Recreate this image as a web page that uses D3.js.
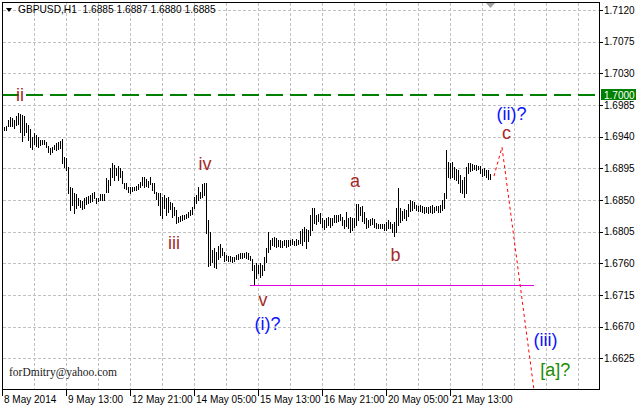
<!DOCTYPE html>
<html><head><meta charset="utf-8">
<script src="https://cdn.jsdelivr.net/npm/d3@7"></script>
<style>html,body{margin:0;padding:0;background:#fff;}svg{display:block}</style>
</head><body>
<svg id="c" width="636" height="408"></svg>
<script>
// ---- data (GBPUSD H1 bar highs / lows, one entry per hour) ----
const highs = [1.6953,
1.6954,1.6955,1.6964,1.6968,1.6967,1.6964,1.6969,1.6974,1.6972,1.6971,
1.6969,1.6959,1.6957,1.6951,1.6940,1.6945,1.6942,1.6940,1.6935,1.6935,
1.6935,1.6932,1.6927,1.6924,1.6925,1.6928,1.6931,1.6932,1.6934,1.6937,
1.6911,1.6910,1.6897,1.6868,1.6867,1.6860,1.6859,1.6853,1.6850,1.6849,
1.6853,1.6854,1.6856,1.6857,1.6860,1.6861,1.6853,1.6853,1.6859,1.6859,
1.6859,1.6881,1.6878,1.6895,1.6903,1.6900,1.6895,1.6898,1.6895,1.6891,
1.6874,1.6874,1.6868,1.6868,1.6868,1.6868,1.6870,1.6873,1.6876,1.6883,
1.6883,1.6880,1.6877,1.6883,1.6874,1.6874,1.6861,1.6860,1.6860,1.6854,
1.6857,1.6853,1.6854,1.6847,1.6846,1.6840,1.6836,1.6826,1.6827,1.6829,
1.6829,1.6830,1.6833,1.6836,1.6840,1.6854,1.6857,1.6868,1.6861,1.6873,
1.6874,1.6874,1.6822,1.6805,1.6779,1.6782,1.6776,1.6785,1.6787,1.6782,
1.6776,1.6772,1.6770,1.6770,1.6769,1.6769,1.6772,1.6773,1.6775,1.6775,
1.6775,1.6776,1.6775,1.6770,1.6766,1.6758,1.6760,1.6758,1.6760,1.6758,
1.6769,1.6782,1.6805,1.6793,1.6796,1.6797,1.6796,1.6793,1.6793,1.6792,
1.6793,1.6793,1.6793,1.6793,1.6795,1.6792,1.6795,1.6793,1.6806,1.6809,
1.6812,1.6809,1.6807,1.6829,1.6839,1.6839,1.6829,1.6830,1.6832,1.6824,
1.6822,1.6824,1.6826,1.6824,1.6824,1.6829,1.6829,1.6829,1.6830,1.6826,
1.6822,1.6833,1.6824,1.6826,1.6824,1.6824,1.6844,1.6844,1.6840,1.6841,
1.6833,1.6824,1.6822,1.6823,1.6824,1.6823,1.6817,1.6816,1.6816,1.6816,
1.6816,1.6819,1.6822,1.6819,1.6816,1.6819,1.6839,1.6867,1.6839,1.6834,
1.6837,1.6836,1.6844,1.6850,1.6849,1.6847,1.6843,1.6841,1.6843,1.6841,
1.6840,1.6840,1.6840,1.6841,1.6843,1.6840,1.6841,1.6841,1.6843,1.6850,
1.6860,1.6921,1.6904,1.6903,1.6904,1.6897,1.6894,1.6893,1.6886,1.6878,
1.6883,1.6897,1.6903,1.6903,1.6901,1.6900,1.6900,1.6898,1.6898,1.6894,
1.6895,1.6893,1.6893,1.6887];
const lows = [1.6947,
1.6949,1.6949,1.6955,1.6955,1.6955,1.6952,1.6957,1.6958,1.6947,1.6934,
1.6942,1.6947,1.6935,1.6925,1.6922,1.6930,1.6927,1.6925,1.6928,1.6930,
1.6930,1.6925,1.6918,1.6915,1.6918,1.6922,1.6921,1.6922,1.6924,1.6903,
1.6897,1.6893,1.6860,1.6836,1.6843,1.6832,1.6839,1.6843,1.6840,1.6837,
1.6839,1.6844,1.6846,1.6847,1.6849,1.6853,1.6846,1.6849,1.6850,1.6850,
1.6850,1.6861,1.6861,1.6871,1.6883,1.6878,1.6886,1.6878,1.6883,1.6874,
1.6867,1.6866,1.6861,1.6860,1.6863,1.6864,1.6864,1.6866,1.6868,1.6871,
1.6868,1.6870,1.6868,1.6873,1.6864,1.6860,1.6851,1.6843,1.6829,1.6824,
1.6839,1.6829,1.6833,1.6837,1.6826,1.6829,1.6817,1.6819,1.6820,1.6822,
1.6823,1.6824,1.6826,1.6829,1.6830,1.6839,1.6846,1.6850,1.6853,1.6854,
1.6857,1.6803,1.6756,1.6758,1.6762,1.6755,1.6753,1.6766,1.6769,1.6772,
1.6763,1.6765,1.6763,1.6763,1.6762,1.6763,1.6766,1.6766,1.6768,1.6768,
1.6769,1.6768,1.6766,1.6765,1.6751,1.6729,1.6739,1.6746,1.6741,1.6743,
1.6751,1.6762,1.6776,1.6780,1.6786,1.6785,1.6783,1.6785,1.6783,1.6783,
1.6786,1.6783,1.6785,1.6786,1.6787,1.6786,1.6786,1.6787,1.6789,1.6786,
1.6792,1.6782,1.6792,1.6800,1.6807,1.6817,1.6816,1.6820,1.6817,1.6812,
1.6809,1.6812,1.6814,1.6812,1.6814,1.6819,1.6819,1.6820,1.6822,1.6814,
1.6810,1.6813,1.6810,1.6805,1.6807,1.6812,1.6814,1.6822,1.6829,1.6820,
1.6817,1.6810,1.6812,1.6814,1.6816,1.6812,1.6810,1.6810,1.6810,1.6810,
1.6807,1.6807,1.6810,1.6810,1.6805,1.6799,1.6805,1.6814,1.6819,1.6822,
1.6824,1.6822,1.6827,1.6834,1.6836,1.6839,1.6836,1.6834,1.6834,1.6833,
1.6832,1.6833,1.6832,1.6833,1.6832,1.6833,1.6836,1.6833,1.6833,1.6836,
1.6839,1.6853,1.6883,1.6881,1.6883,1.6880,1.6878,1.6874,1.6861,1.6860,
1.6854,1.6860,1.6888,1.6891,1.6893,1.6894,1.6893,1.6894,1.6888,1.6884,
1.6886,1.6883,1.6880,1.6880];
const symbol = "GBPUSD,H1";
const quote = [1.6885, 1.6887, 1.6880, 1.6885]; // O H L C of the current bar
const yTicks = [1.7120,1.7075,1.7030,1.6985,1.6940,1.6895,1.6850,1.6805,1.6760,1.6715,1.6670,1.6625];
const timeLabels = ["8 May 2014","9 May 13:00","12 May 21:00","14 May 05:00","15 May 13:00","16 May 21:00","20 May 05:00","21 May 13:00"];
const timeLabelBars = [0,32,64,96,128,160,192,224];
const gridBars = d3.range(16, 289, 16);
const levelPrice = 1.7000;
const supportBars = [124, 266];
const supportPrice = 1.6729;
const projBars = [246, 250, 266];
const projPrices = [1.6884, 1.6925, 1.6580];
const waveText  = ["ii","iii","iv","v","a","b","c","(i)?","(ii)?","(iii)","[a]?"];
const waveBars  = [9, 86, 101.5, 130.5, 176.5, 196.8, 252.2, 132.8, 254.8, 271.8, 276.6];
const wavePrice = [1.6990,1.6780,1.6893,1.6699,1.6869,1.6763,1.6937,1.6665,1.6964,1.6643,1.6600];
const waveColor = ["#a52a2a","#a52a2a","#a52a2a","#a52a2a","#a52a2a","#a52a2a","#a52a2a","#0a14ff","#0a14ff","#0a14ff","#228b00"];
const watermark = "forDmitry@yahoo.com";

// ---- layout ----
const L = 2, R = 599, T = 2, B = 389;
const svg = d3.select("#c");
const x = d3.scaleLinear().domain([0, 298.5]).range([L, R]);
const y = d3.scaleLinear().domain([1.6625, 1.7120]).range([358.33, 10]);
const px = v => Math.round(v) + 0.5;
const axisFont = "'Liberation Sans', Arial, sans-serif";
const fs = "10px";

svg.append("defs").append("clipPath").attr("id","plot")
  .append("rect").attr("x",L).attr("y",T).attr("width",R-L).attr("height",B-T);

// grid
const grid = svg.append("g").attr("stroke","#c0c0c0").attr("stroke-dasharray","3,2").attr("shape-rendering","crispEdges");
grid.selectAll(".h").data(yTicks).join("line").attr("class","h")
  .attr("x1",L+1).attr("x2",R).attr("y1",d=>px(y(d))).attr("y2",d=>px(y(d)));
grid.selectAll(".v").data(gridBars).join("line").attr("class","v")
  .attr("x1",d=>px(x(d))).attr("x2",d=>px(x(d))).attr("y1",T+1).attr("y2",B);

// 1.7000 level
svg.append("line").attr("x1",L).attr("x2",R).attr("y1",Math.round(y(levelPrice))+1).attr("y2",Math.round(y(levelPrice))+1)
  .attr("stroke","#008000").attr("stroke-width",2).attr("stroke-dasharray","17,7").attr("shape-rendering","crispEdges");

// bars
svg.append("g").attr("shape-rendering","crispEdges").selectAll("line").data(highs).join("line")
  .attr("x1",(d,i)=>px(x(i))).attr("x2",(d,i)=>px(x(i)))
  .attr("y1",d=>Math.round(y(d)))
  .attr("y2",(d,i)=>Math.round(y(lows[i]))+1)
  .attr("stroke","#000").attr("stroke-width",1);

// support line
svg.append("line").attr("x1",x(supportBars[0])).attr("x2",x(supportBars[1]))
  .attr("y1",px(y(supportPrice))).attr("y2",px(y(supportPrice)))
  .attr("stroke","#e000e0").attr("stroke-width",1).attr("shape-rendering","crispEdges");

// projection
svg.append("path").attr("clip-path","url(#plot)")
  .datum(projBars.map((b,i)=>[b,projPrices[i]]))
  .attr("d", d3.line().x(d=>x(d[0])).y(d=>y(d[1])))
  .attr("fill","none").attr("stroke","#ff0000").attr("stroke-width",1).attr("stroke-dasharray","3,3");

// frame
svg.append("rect").attr("x",L+0.5).attr("y",T+0.5).attr("width",R-L).attr("height",B-T)
  .attr("fill","none").attr("stroke","#000").attr("shape-rendering","crispEdges");

// y axis
const ya = svg.append("g").attr("font-family",axisFont).attr("font-size",fs).attr("fill","#000");
ya.selectAll("line").data(yTicks).join("line")
  .attr("x1",R).attr("x2",R+4).attr("y1",d=>px(y(d))).attr("y2",d=>px(y(d)))
  .attr("stroke","#000").attr("shape-rendering","crispEdges");
ya.selectAll("text").data(yTicks).join("text")
  .attr("x",R+5).attr("y",d=>y(d)+3.7).text(d=>d.toFixed(4));
// level tag
svg.append("rect").attr("x",R+2).attr("y",Math.round(y(levelPrice))-5).attr("width",35).attr("height",11).attr("fill","#008000");
svg.append("text").attr("x",R+5).attr("y",y(levelPrice)+4.2).attr("font-family",axisFont).attr("font-size",fs)
  .attr("fill","#fff").text(levelPrice.toFixed(4));

// x axis
const xa = svg.append("g").attr("font-family",axisFont).attr("font-size",fs).attr("fill","#000");
xa.selectAll("line").data(timeLabelBars).join("line")
  .attr("x1",d=>px(x(d))).attr("x2",d=>px(x(d))).attr("y1",B).attr("y2",B+7)
  .attr("stroke","#000").attr("shape-rendering","crispEdges");
xa.selectAll("text").data(timeLabels).join("text")
  .attr("x",(d,i)=>x(timeLabelBars[i])+2).attr("y",402.5).text(d=>d);

// title
svg.append("path").attr("d","M6,8L12,8L9,12Z").attr("fill","#000");
svg.append("text").attr("x",18).attr("y",13).attr("font-family",axisFont).attr("font-size","10.2px")
  .style("white-space","pre").text(symbol + "  " + quote.map(v=>v.toFixed(4)).join(" "));
// chart shift marker
const sx = px(x(highs.length-1));
svg.append("path").attr("d",`M${sx-4.5},3L${sx+4.5},3L${sx},8Z`).attr("fill","#a0a0a0");

// wave labels
svg.append("g").attr("font-family",axisFont).attr("font-size","18px").attr("text-anchor","middle")
  .selectAll("text").data(waveText).join("text")
  .attr("x",(d,i)=>x(waveBars[i])).attr("y",(d,i)=>y(wavePrice[i]))
  .attr("fill",(d,i)=>waveColor[i]).text(d=>d);

// watermark
svg.append("text").attr("x",9).attr("y",376).attr("font-family","'Liberation Serif', 'Times New Roman', serif")
  .attr("font-size","11.5px").attr("fill","#1a1a1a").text(watermark);
</script>
</body></html>
